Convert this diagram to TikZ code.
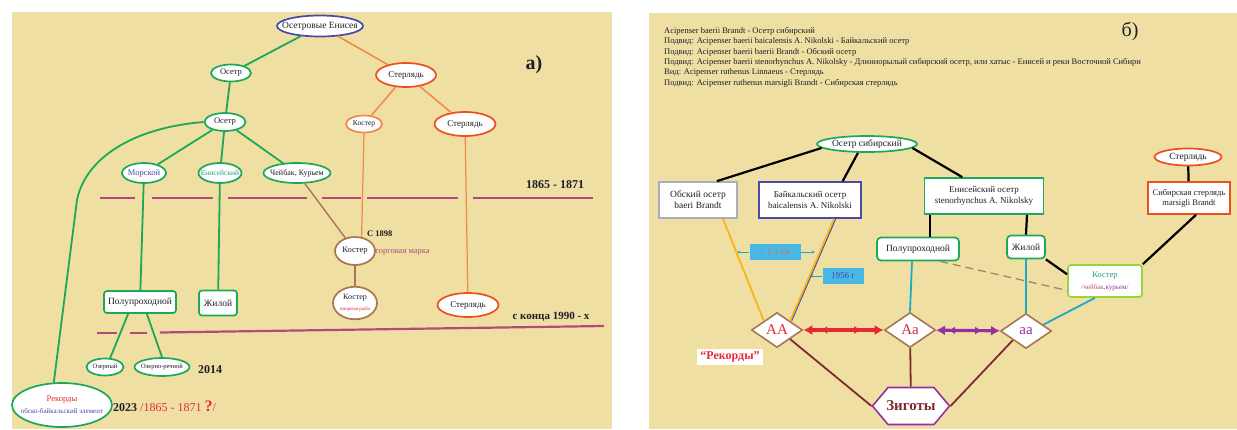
\documentclass[tikz,border=0pt]{standalone}
\usepackage{fontspec}
\setmainfont{Liberation Serif}
\usetikzlibrary{shapes.geometric,shapes.symbols,arrows.meta,decorations.markings}
\definecolor{beige}{RGB}{240,223,163}
\definecolor{gr}{RGB}{28,168,88}
\definecolor{orl}{RGB}{242,135,70}
\definecolor{orb}{RGB}{238,78,32}
\definecolor{bl}{RGB}{72,72,165}
\definecolor{brn}{RGB}{168,118,80}
\definecolor{mag}{RGB}{182,72,128}
\definecolor{cy}{RGB}{32,168,200}
\definecolor{yel}{RGB}{246,182,22}
\definecolor{dred}{RGB}{128,42,48}
\definecolor{rd}{RGB}{230,40,52}
\definecolor{pur}{RGB}{150,48,160}
\definecolor{boxbl}{RGB}{70,185,230}
\definecolor{lgr}{RGB}{152,212,64}
\definecolor{gry}{RGB}{168,174,190}
\definecolor{dsh}{RGB}{150,138,108}
\definecolor{tl}{RGB}{30,160,130}
\definecolor{txt}{RGB}{30,30,40}
\definecolor{salm}{RGB}{236,105,70}
\newcommand{\zb}[1]{\makebox[0pt]{#1}}
\begin{document}
\begin{tikzpicture}[x=1pt,y=-1pt,
  every node/.style={text=txt, align=center, inner sep=0pt},
  fs/.style 2 args={font=\fontsize{#1}{#2}\selectfont},
  ell/.style={ellipse, fill=white, line width=1.7pt},
  rbox/.style={rectangle, fill=white, line width=1.7pt, inner xsep=3pt, inner ysep=2pt},
  dia/.style={diamond, fill=white, draw=brn, line width=1.6pt, minimum width=51pt, minimum height=35pt},
  gline/.style={gr, line width=1.8pt},
  oline/.style={orl, line width=1.5pt},
  hline/.style={mag, line width=2.2pt},
  kline/.style={black, line width=2.2pt},
  cline/.style={cy, line width=1.8pt},
  zline/.style={dred, line width=1.8pt},
  bbox/.style={fill=boxbl, inner sep=0pt, minimum height=16pt, fs={9}{10}},
  barrow/.style={cy, line width=1pt, -{Stealth[length=3pt,width=3pt]}}
]
\useasboundingbox (0,0) rectangle (1237,429);
\fill[white] (0,0) rectangle (1237,429);
\fill[beige] (12,12) rectangle (612,429);
\fill[beige] (649,13) rectangle (1237,429);

% ---------- panel a ----------
\foreach \a/\b in {100/135,152/213,228/307,322/361,367/458,473/593}
  \draw[hline] (\a,198) -- (\b,198);
\draw[hline] (97,333) -- (117,333);
\draw[hline] (130,333) -- (147,333);
\draw[hline] (160,332.5) -- (604,326);

\node[ell, draw=bl, minimum width=86pt, minimum height=21pt, fs={9.5}{10}] (oe) at (320,26) {\zb{Осетровые Енисея}};
\node[ell, draw=gr, minimum width=40pt, minimum height=17pt, fs={8.5}{9}] (os1) at (231,73) {\zb{Осетр}};
\node[ell, draw=orb, minimum width=60pt, minimum height=24pt, fs={9}{9}] (st1) at (406,75) {\zb{Стерлядь}};
\node[ell, draw=gr, minimum width=41pt, minimum height=18pt, fs={8.5}{9}] (os2) at (225,122) {\zb{Осетр}};
\node[ell, draw=orl, minimum width=36pt, minimum height=17pt, fs={7.5}{9}] (ks1) at (364,124) {\zb{Костер}};
\node[ell, draw=orb, minimum width=61pt, minimum height=24pt, fs={9}{9}] (st2) at (465,124) {\zb{Стерлядь}};
\node[ell, draw=gr, minimum width=44pt, minimum height=20pt, fs={8.5}{9}, text=bl] (mor) at (144,173) {\zb{Морской}};
\node[ell, draw=gr, minimum width=43pt, minimum height=20pt, fs={7.5}{9}, text=tl] (en) at (220,173) {\zb{Енисейский}};
\node[ell, draw=gr, minimum width=67pt, minimum height=20pt, fs={8}{9}] (ch) at (297,173) {\zb{Чейбак, Курьем}};
\node[rbox, draw=gr, rounded corners=3pt, minimum width=72pt, minimum height=22pt, fs={9.5}{10}] (pp) at (140,302) {Полупроходной};
\node[rbox, draw=gr, rounded corners=3pt, minimum width=38pt, minimum height=25pt, fs={9.5}{10}] (zh) at (218,303) {Жилой};
\node[ell, draw=gr, minimum width=37pt, minimum height=17pt, fs={6.5}{7}] (oz) at (105,367) {\zb{Озерный}};
\node[ell, draw=gr, minimum width=55pt, minimum height=18pt, fs={6.5}{7}] (ozr) at (162,367) {\zb{Озерно-речной}};
\node[fs={12}{12}] (y14) at (210,370) {\bfseries 2014};
\node[ell, draw=gr, minimum width=100pt, minimum height=44pt] (rek) at (62,405)
  {\zb{\begin{tabular}{@{}c@{}}\fontsize{8.5}{9}\selectfont\color{rd}Рекорды\\ \fontsize{7}{8}\selectfont\color{bl}обско-байкальский элемент\end{tabular}}};
\node[fs={12}{12}, anchor=west] (y23) at (113,406) {\bfseries 2023 \mdseries\color{rd}/1865 - 1871 {\fontsize{16}{16}\selectfont\bfseries ?}/};
\node[ell, draw=brn, minimum width=40pt, minimum height=28pt, fs={8.5}{9}] (ks2) at (355,251) {\zb{Костер}};
\node[fs={8.5}{9}, anchor=west] (c98) at (367,234) {\bfseries С 1898};
\node[fs={8.5}{9}, anchor=west, text=mag] (tm) at (375,252) {торговая марка};
\node[ell, draw=brn, minimum width=44pt, minimum height=30pt] (ks3) at (355,303)
  {\zb{\begin{tabular}{@{}c@{}}\fontsize{8}{8}\selectfont Костер\\[-1pt]\fontsize{5}{6}\selectfont\color{rd}пищевая рыба\end{tabular}}};
\node[ell, draw=orb, minimum width=61pt, minimum height=24pt, fs={9}{9}] (st3) at (468,305) {\zb{Стерлядь}};
\node[fs={12}{12}] (l1) at (555,185) {\bfseries 1865 - 1871};
\node[fs={11}{11}] (l2) at (551,317) {\bfseries с конца 1990 - х};
\node[fs={20}{20}] (pa) at (534,65) {\bfseries а)};

\draw[gline] (oe) -- (os1);
\draw[oline] (oe) -- (st1);
\draw[gline] (os1) -- (os2);
\draw[gline] (os2) -- (mor);
\draw[gline] (os2) -- (en);
\draw[gline] (os2) -- (ch);
\draw[gline] (os2.west) .. controls (130,128) and (85,160) .. (77,200) -- (rek.110);
\draw[gline] (mor) -- (pp);
\draw[gline] (en) -- (zh);
\draw[gline] (pp.225) -- (oz.60);
\draw[gline] (pp.-60) -- (ozr.north);
\draw[oline] (st1) -- (ks1);
\draw[oline] (st1) -- (st2);
\draw[oline, line width=1.2pt] (ks1.south) -- (ks2.65);
\draw[oline, line width=1.2pt] (st2) -- (st3);
\draw[brn, line width=1.4pt] (ch) -- (ks2);
\draw[brn, line width=1.4pt] (ks2) -- (ks3);

% ---------- panel b ----------
\node[anchor=north west, align=left, fs={8.5}{10.4}] (hdr) at (664,27) {Acipenser baerii Brandt - Осетр сибирский\\
Подвид: Acipenser baerii baicalensis A. Nikolski - Байкальский осетр\\
Подвид: Acipenser baerii baerii Brandt - Обский осетр\\
Подвид: Acipenser baerii stenorhynchus A. Nikolsky - Длиннорылый сибирский осетр, или хатыс - Енисей и реки Восточной Сибири\\
Вид: Acipenser ruthenus Linnaeus - Стерлядь\\
Подвид: Acipenser ruthenus marsigli Brandt - Сибирская стерлядь};
\node[fs={20}{20}] (pb) at (1130,31) {б)};

\node[ell, draw=gr, minimum width=100pt, minimum height=16pt, fs={9.5}{10}] (os) at (867,144) {\zb{Осетр сибирский}};
\node[rbox, draw=gry, minimum width=78pt, minimum height=36pt, fs={9.5}{11}] (ob) at (698,200) {Обский осетр\\baeri Brandt};
\node[rbox, draw=bl, minimum width=102pt, minimum height=36pt, fs={9}{11}] (bk) at (810,200) {Байкальский осетр\\baicalensis A. Nikolski};
\node[rbox, draw=gr, minimum width=119pt, minimum height=36pt, fs={9}{11}] (ens) at (984,196) {Енисейский осетр\\stenorhynchus A. Nikolsky};
\node[ell, draw=orb, minimum width=67pt, minimum height=17pt, fs={9.5}{10}] (sr) at (1188,157) {\zb{Стерлядь}};
\node[rbox, draw=orb, minimum width=82pt, minimum height=32pt, fs={8.5}{10}] (ss) at (1189,198) {Сибирская стерлядь\\marsigli Brandt};
\node[rbox, draw=gr, rounded corners=4pt, minimum width=82pt, minimum height=23pt, fs={9.5}{10}] (pp2) at (918,249) {Полупроходной};
\node[rbox, draw=gr, rounded corners=4pt, minimum width=38pt, minimum height=23pt, fs={9.5}{10}] (zh2) at (1026,247) {Жилой};
\node[rbox, draw=lgr, rounded corners=3pt, minimum width=74pt, minimum height=32pt] (kb) at (1105,281)
  {{\fontsize{8.5}{9}\selectfont\color{tl}Костер}\\{\fontsize{7}{8}\selectfont\color{mag}/чейбак,\color{pur}курьем/}};
\node[dia, text=rd, fs={15}{15}] (AA) at (777,330) {\zb{AA}};
\node[dia, text=rd!80!pur, fs={15}{15}] (Aa) at (910,330) {\zb{Aa}};
\node[dia, text=pur, fs={15}{15}] (aa) at (1026,331) {\zb{aa}};
\node[shape=signal, signal to=east and west, signal pointer angle=100, draw=pur, fill=white, line width=1.6pt, minimum width=77pt, minimum height=37pt, text=dred, fs={15}{15}] (zy) at (911,406) {\zb{\bfseries Зиготы}};
\node[fill=white, text=rd, fs={12}{12}, inner xsep=3pt, inner ysep=3pt] (rk) at (730,357) {\bfseries “Рекорды”};
\node[bbox, text=salm, minimum width=51pt] (b1) at (775,252) {> 1 1 см};
\node[bbox, text=bl, minimum width=41pt] (b2) at (843,276) {1956 г};
\coordinate (c1) at (737,252);
\coordinate (c2) at (815,252);
\coordinate (c3) at (810,276);
\draw[barrow] (b1.west) -- (c1);
\draw[barrow] (b1.east) -- (c2);
\draw[barrow] (b2.west) -- (c3);

\draw[kline] (os.185) -- (ob.45);
\draw[kline] ([xshift=-9pt]os.south) -- (bk.30);
\draw[kline] (os.355) -- (ens.139);
\draw[kline] ([xshift=-54pt]ens.south) -- ([xshift=12pt]pp2.north);
\draw[kline] ([xshift=43pt]ens.south) -- (zh2.north);
\draw[kline] (sr) -- (ss);
\draw[kline] ([xshift=7pt]ss.south) -- (kb.north east);
\draw[kline] (zh2.south east) -- (kb.170);
\draw[dsh, line width=1.3pt, dash pattern=on 8pt off 5pt] ([xshift=22pt]pp2.south) -- (kb.194);
\draw[cline] ([xshift=-6pt]pp2.south) -- (Aa.north);
\draw[cline] (zh2) -- (aa);
\draw[cline] ([xshift=-10pt]kb.south) -- (aa.20);
\draw[yel, line width=1.8pt] (ob.-37) -- (AA.north west);
\draw[yel, line width=1.8pt] (bk.-38) -- (AA.north east);
\draw[bl, line width=0.9pt] ([xshift=1.6pt]bk.-38) -- ([xshift=1.6pt]AA.north east);
\draw[zline] (AA.south east) -- (zy.west);
\draw[zline] (Aa) -- (zy);
\draw[zline] (aa.south west) -- (zy.east);
\draw[rd, line width=3.2pt, {Latex[length=9pt,width=10pt]}-{Latex[length=9pt,width=10pt]},
  postaction={decorate}, decoration={markings,
    mark=at position 0.3 with {\arrow{Latex[length=7pt,width=8pt,reversed]}},
    mark=at position 0.72 with {\arrow{Latex[length=7pt,width=8pt]}}}] (AA) -- (Aa);
\draw[pur, line width=3.2pt, {Latex[length=9pt,width=10pt]}-{Latex[length=9pt,width=10pt]},
  postaction={decorate}, decoration={markings,
    mark=at position 0.3 with {\arrow{Latex[length=7pt,width=8pt,reversed]}},
    mark=at position 0.72 with {\arrow{Latex[length=7pt,width=8pt]}}}] (Aa) -- (aa);
\end{tikzpicture}
\end{document}
